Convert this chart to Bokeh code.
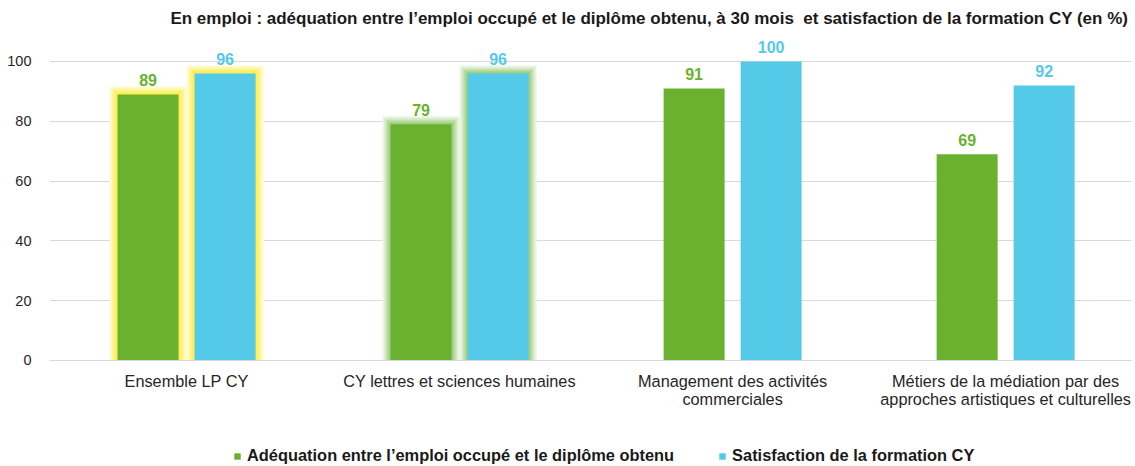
from bokeh.plotting import figure
from bokeh.models import Range1d, FixedTicker, Label, Legend, LegendItem
from bokeh.core.properties import value
from bokeh.embed import file_html
from bokeh.resources import INLINE

categories = ["Ensemble LP CY",
              "CY lettres et sciences humaines",
              "Management des activités\ncommerciales",
              "Métiers de la médiation par des\napproches artistiques et culturelles"]
adequation = [89, 79, 91, 69]
satisfaction = [96, 96, 100, 92]
series_names = ["Adéquation entre l\u2019emploi occupé et le diplôme obtenu",
                "Satisfaction de la formation CY"]
title_text = ("En emploi : adéquation entre l\u2019emploi occupé et le diplôme obtenu, "
              "à 30 mois \u00a0et satisfaction de la formation CY (en %)")
y_ticks = [0, 20, 40, 60, 80, 100]

GREEN = "#6AB12F"
BLUE = "#55C9E8"
FONT = "Liberation Sans"

W, H = 1135, 466
LEFT, RIGHT = 49, 4
X0, X1 = -0.502, 3.461
PXX = (W - LEFT - RIGHT) / (X1 - X0)      # px per x unit
PXY = 2.99                                 # px per y unit
Y1 = 120.4
Y0 = Y1 - H / PXY

xs = list(range(len(categories)))
off = 0.141
bw = 0.2234
xg = [x - off for x in xs]
xb = [x + off for x in xs]

p = figure(width=W, height=H, output_backend="svg", toolbar_location=None,
           x_range=Range1d(X0, X1), y_range=Range1d(Y0, Y1),
           min_border_left=LEFT, min_border_right=RIGHT, min_border_top=0, min_border_bottom=0)
p.outline_line_color = None
p.background_fill_color = "white"

# soft glow behind the first two categories
glows = [(0, ["#FFFBD0", "#FFF7A0", "#FFF176", "#FFEE58"]),
         (1, ["#EAF4E2", "#D3E9C3", "#B9DCA0", "#A3CF86"])]
for idx, cols in glows:
    gx = [xg[idx], xb[idx]]
    gt = [adequation[idx], satisfaction[idx]]
    for k, col in zip([8, 6, 4, 2], cols):
        p.vbar(x=gx, top=[t + k / PXY for t in gt], bottom=0, width=bw + 2 * k / PXX,
               fill_color=col, line_color=None)

r1 = p.vbar(x=xg, top=adequation, bottom=0, width=bw, fill_color=GREEN, line_color=None)
r2 = p.vbar(x=xb, top=satisfaction, bottom=0, width=bw, fill_color=BLUE, line_color=None)

p.text(x=xg, y=adequation, text=[str(v) for v in adequation], text_color=GREEN,
       text_font=value(FONT), text_font_size="16px", text_font_style="bold",
       text_align="center", text_baseline="bottom", y_offset=-8)
p.text(x=xb, y=satisfaction, text=[str(v) for v in satisfaction], text_color=BLUE,
       text_font=value(FONT), text_font_size="16px", text_font_style="bold",
       text_align="center", text_baseline="bottom", y_offset=-8)

# axes
p.yaxis.ticker = FixedTicker(ticks=y_ticks)
p.yaxis.axis_line_color = None
p.yaxis.major_tick_line_color = None
p.yaxis.minor_tick_line_color = None
p.yaxis.major_label_standoff = 12
p.yaxis.major_label_text_font = FONT
p.yaxis.major_label_text_font_size = "14.5px"
p.yaxis.major_label_text_color = "#262626"

p.xaxis.fixed_location = 0
p.xaxis.ticker = FixedTicker(ticks=xs)
p.xaxis.major_label_overrides = {i: c for i, c in enumerate(categories)}
p.xaxis.axis_line_color = "#D9D9D9"
p.xaxis.major_tick_line_color = None
p.xaxis.minor_tick_line_color = None
p.xaxis.major_label_standoff = 6
p.xaxis.major_label_text_font = FONT
p.xaxis.major_label_text_font_size = "16.3px"
p.xaxis.major_label_text_line_height = 1.0
p.xaxis.major_label_text_color = "#262626"

p.xgrid.grid_line_color = None
p.ygrid.grid_line_color = "#D9D9D9"
p.ygrid.ticker = FixedTicker(ticks=y_ticks)

# title
p.add_layout(Label(x=1.695, y=114.4, text=title_text, text_font=FONT, text_font_size="17px",
                   text_font_style="bold", text_align="center", text_baseline="middle",
                   text_color="#1a1a1a"))

# legend
lg = Legend(items=[LegendItem(label=series_names[0], renderers=[r1]),
                   LegendItem(label=series_names[1], renderers=[r2])],
            location=(184, 1), orientation="horizontal", padding=0, margin=0, spacing=44,
            glyph_width=8, glyph_height=8, label_standoff=6, border_line_color=None,
            background_fill_alpha=0, label_text_font=FONT, label_text_font_size="16.4px",
            label_text_font_style="bold", label_text_color="#1a1a1a", label_height=17)
p.add_layout(lg, "center")

open("out.html", "w").write(file_html(p, INLINE))
